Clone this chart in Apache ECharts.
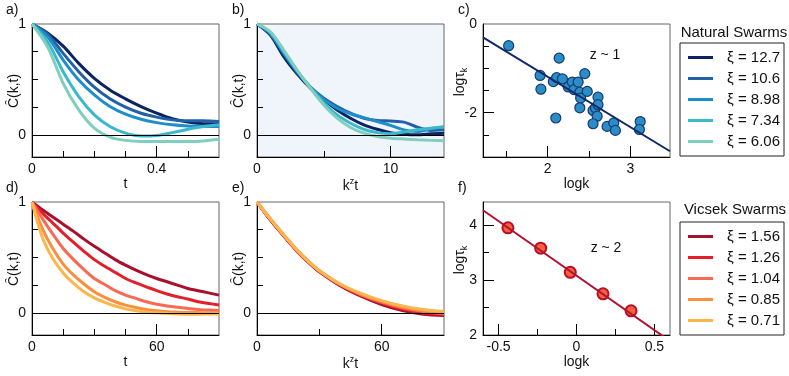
<!DOCTYPE html>
<html>
<head>
<meta charset="utf-8">
<script src="https://cdn.jsdelivr.net/npm/echarts@6/dist/echarts.min.js"></script>
<style>
html, body { margin: 0; padding: 0; background: #fff; }
#chart { width: 789px; height: 376px; }
</style>
</head>
<body>
<div id="chart"></div>
<script>
const font = 'Liberation Sans, Arial, Helvetica, sans-serif'

// natural swarms (a, b, c)
const natNames = ['ξ = 12.7', 'ξ = 10.6', 'ξ = 8.98', 'ξ = 7.34', 'ξ = 6.06']
const natColors = ['#0b2360', '#2260a8', '#1d8ec9', '#3bb8cc', '#7fcfbf']

const tA = [0, 0.05, 0.1, 0.15, 0.2, 0.25, 0.3, 0.35, 0.4, 0.45, 0.5, 0.55, 0.6]
const aCurves = [
    [1, 0.92, 0.80, 0.645, 0.51, 0.405, 0.325, 0.255, 0.195, 0.145, 0.115, 0.10, 0.10],
    [1, 0.91, 0.735, 0.57, 0.43, 0.325, 0.25, 0.195, 0.16, 0.135, 0.126, 0.126, 0.12],
    [1, 0.885, 0.675, 0.495, 0.36, 0.255, 0.186, 0.14, 0.11, 0.09, 0.08, 0.077, 0.075],
    [1, 0.84, 0.57, 0.345, 0.18, 0.075, 0.015, -0.01, -0.005, 0.02, 0.05, 0.075, 0.09],
    [1, 0.795, 0.465, 0.225, 0.06, -0.02, -0.05, -0.06, -0.06, -0.06, -0.06, -0.055, -0.04]
]

const ktB = [0, 1, 2, 3, 4, 5, 6, 7, 8, 9, 10, 11, 12, 13, 14]
const bCurves = [
    [1, 0.90, 0.705, 0.55, 0.42, 0.315, 0.225, 0.15, 0.09, 0.05, 0.02, 0.005, 0, 0.01, 0.015],
    [1, 0.91, 0.73, 0.565, 0.43, 0.33, 0.255, 0.195, 0.15, 0.13, 0.125, 0.115, 0.07, 0.04, 0.045],
    [1, 0.915, 0.74, 0.575, 0.43, 0.32, 0.24, 0.19, 0.155, 0.12, 0.085, 0.045, 0.03, 0.055, 0.07],
    [1, 0.925, 0.755, 0.58, 0.425, 0.29, 0.18, 0.105, 0.05, 0.02, 0.01, 0.025, 0.045, 0.06, 0.07],
    [1, 0.93, 0.765, 0.585, 0.42, 0.27, 0.15, 0.066, 0.015, -0.015, -0.03, -0.038, -0.045, -0.05, -0.054]
]

const cLogK = [1.53, 2.14, 1.91, 1.92, 2.07, 2.11, 2.10, 2.18, 2.25, 2.30, 2.32, 2.37, 2.39, 2.45,
    2.40, 2.48, 2.39, 2.55, 2.58, 2.61, 2.61, 2.60, 2.55, 2.72, 2.80, 2.82, 3.12, 3.11]
const cLogTau = [-0.49, -0.77, -1.16, -1.47, -1.30, -1.21, -2.12, -1.24, -1.42, -1.31, -1.48, -1.31, -1.54, -1.12,
    -1.67, -1.52, -1.89, -1.95, -1.89, -1.65, -1.82, -2.08, -2.25, -2.31, -2.23, -2.40, -2.20, -2.38]
const cFitX = [1.22, 3.48]
const cFitY = [-0.30, -2.87]

// vicsek swarms (d, e, f)
const vicNames = ['ξ = 1.56', 'ξ = 1.26', 'ξ = 1.04', 'ξ = 0.85', 'ξ = 0.71']
const vicColors = ['#a8102d', '#e3202a', '#f96a55', '#fa8f3c', '#fdb54e']

const tD = [0, 5, 10, 15, 20, 25, 30, 35, 40, 45, 50, 55, 60, 65, 70, 75, 80, 85, 90]
const dCurves = [
    [1, 0.93, 0.865, 0.80, 0.735, 0.665, 0.60, 0.54, 0.48, 0.43, 0.385, 0.345, 0.31, 0.28, 0.25, 0.22, 0.20, 0.18, 0.16],
    [1, 0.90, 0.81, 0.72, 0.635, 0.555, 0.48, 0.42, 0.365, 0.31, 0.27, 0.235, 0.20, 0.17, 0.145, 0.125, 0.10, 0.085, 0.07],
    [1, 0.85, 0.71, 0.58, 0.48, 0.39, 0.31, 0.255, 0.20, 0.16, 0.13, 0.10, 0.078, 0.062, 0.05, 0.04, 0.03, 0.025, 0.02],
    [1, 0.76, 0.58, 0.44, 0.34, 0.26, 0.19, 0.14, 0.10, 0.07, 0.048, 0.03, 0.018, 0.01, 0.006, 0.003, 0.002, 0.001, 0],
    [1, 0.68, 0.49, 0.36, 0.265, 0.19, 0.135, 0.095, 0.062, 0.036, 0.018, 0.006, 0, -0.006, -0.01, -0.012, -0.012, -0.011, -0.01]
]

const ktE = [0, 5, 10, 15, 20, 25, 30, 40, 50, 60, 70, 80, 90]
const eCurves = [
    [1, 0.87, 0.755, 0.645, 0.54, 0.45, 0.37, 0.245, 0.15, 0.075, 0.02, -0.012, -0.025],
    [1, 0.875, 0.76, 0.65, 0.545, 0.455, 0.375, 0.25, 0.158, 0.088, 0.035, 0, -0.015],
    [1, 0.88, 0.765, 0.655, 0.55, 0.46, 0.38, 0.255, 0.165, 0.097, 0.045, 0.012, -0.005],
    [1, 0.88, 0.765, 0.655, 0.55, 0.46, 0.38, 0.258, 0.17, 0.104, 0.055, 0.022, 0.005],
    [1, 0.88, 0.765, 0.655, 0.55, 0.46, 0.38, 0.26, 0.175, 0.11, 0.062, 0.03, 0.012]
]

const fLogK = [-0.44, -0.23, -0.04, 0.17, 0.35]
const fLogTau = [3.95, 3.58, 3.14, 2.75, 2.44]
const fFitX = [-0.6, 0.6]
const fFitY = [4.27, 1.89]

// grids: [left, top]
const grids = [[32, 24], [257, 24], [483, 24], [32, 202], [257, 202], [483, 202]]

const txt = { fontFamily: font, fontSize: 14, color: '#111' }
const rich = {
    n: { fontFamily: font, fontSize: 14, fill: '#111', color: '#111', lineHeight: 18 },
    sup: { fontFamily: font, fontSize: 9, fill: '#111', color: '#111', lineHeight: 9, verticalAlign: 'top' },
    sub: { fontFamily: font, fontSize: 9, fill: '#111', color: '#111', lineHeight: 9, verticalAlign: 'bottom' }
}

const xAxes = []
const yAxes = []

// primary axis with labels + long ticks, second one only for the short ticks
function addAxes(list, g, pos, min, max, labels, longT, shortT, name) {
    list.push({
        type: 'value', gridIndex: g, position: pos, min: min, max: max,
        axisLine: { show: true, onZero: false, lineStyle: { color: '#000', width: 1 } },
        axisTick: { show: longT.length > 0, inside: true, length: 11, customValues: longT, lineStyle: { color: '#000' } },
        axisLabel: { customValues: labels, margin: pos === 'left' ? 6 : 5, formatter: v => String(v), ...txt },
        splitLine: { show: false },
        name: name || '', nameLocation: 'middle', nameGap: name === 't' || name === 'logk' ? 16 : 14,
        nameTextStyle: { ...txt, rich: rich }
    })
    list.push({
        type: 'value', gridIndex: g, position: pos, min: min, max: max,
        axisLine: { show: false, onZero: false },
        axisTick: { show: true, inside: true, length: 6, customValues: shortT, lineStyle: { color: '#000' } },
        axisLabel: { show: false },
        splitLine: { show: false }
    })
}

const kztName = '{n|k}{sup|z}{n|t}'

addAxes(xAxes, 0, 'bottom', 0, 0.6, [0, 0.4], [0.4], [0.1, 0.2, 0.3, 0.5], 't')
addAxes(yAxes, 0, 'left', -0.2, 1, [0, 1], [], [0.25, 0.5, 0.75])
addAxes(xAxes, 1, 'bottom', 0, 14, [0, 10], [10], [5], kztName)
addAxes(yAxes, 1, 'left', -0.2, 1, [0, 1], [], [0.25, 0.5, 0.75])
addAxes(xAxes, 2, 'bottom', 1.22, 3.48, [2, 3], [2, 3], [1.5, 2.5], 'logk')
addAxes(yAxes, 2, 'left', -3, 0, [0, -2], [-2], [-0.5, -1, -1.5, -2.5])
addAxes(xAxes, 3, 'bottom', 0, 90, [0, 60], [60], [15, 30, 45, 75], 't')
addAxes(yAxes, 3, 'left', -0.2, 1, [0, 1], [], [0.25, 0.5, 0.75])
addAxes(xAxes, 4, 'bottom', 0, 90, [0, 60], [60], [30], kztName)
addAxes(yAxes, 4, 'left', -0.2, 1, [0, 1], [], [0.25, 0.5, 0.75])
addAxes(xAxes, 5, 'bottom', -0.6, 0.6, [-0.5, 0, 0.5], [-0.5, 0, 0.5], [-0.25, 0.25], 'logk')
addAxes(yAxes, 5, 'left', 2, 4.42, [2, 3, 4], [3, 4], [2.5, 3.5])

const zeroLine = {
    silent: true, symbol: 'none', animation: false,
    label: { show: false },
    lineStyle: { color: '#000', width: 1, type: 'solid' },
    data: [{ yAxis: 0 }]
}

const series = []
function addCurves(g, xs, curves, names, colors) {
    curves.forEach((ys, i) => {
        series.push({
            name: names[i], type: 'line', xAxisIndex: 2 * g, yAxisIndex: 2 * g,
            data: xs.map((x, j) => [x, ys[j]]),
            smooth: 0.3, showSymbol: false,
            lineStyle: { color: colors[i], width: 3 }, itemStyle: { color: colors[i] },
            markLine: i === 0 ? zeroLine : undefined
        })
    })
}
addCurves(0, tA, aCurves, natNames, natColors)
addCurves(1, ktB, bCurves, natNames, natColors)
addCurves(3, tD, dCurves, vicNames, vicColors)
addCurves(4, ktE, eCurves, vicNames, vicColors)

series.push({
    type: 'line', xAxisIndex: 4, yAxisIndex: 4, showSymbol: false,
    data: cFitX.map((x, i) => [x, cFitY[i]]),
    lineStyle: { color: '#10296a', width: 2 }
})
series.push({
    type: 'scatter', xAxisIndex: 4, yAxisIndex: 4, symbolSize: 10,
    data: cLogK.map((x, i) => [x, cLogTau[i]]),
    itemStyle: { color: '#2a8dc8', borderColor: '#163a6e', borderWidth: 1.2, opacity: 1 }
})
series.push({
    type: 'line', xAxisIndex: 10, yAxisIndex: 10, showSymbol: false,
    data: fFitX.map((x, i) => [x, fFitY[i]]),
    lineStyle: { color: '#b3132f', width: 2 }
})
series.push({
    type: 'scatter', xAxisIndex: 10, yAxisIndex: 10, symbolSize: 11,
    data: fLogK.map((x, i) => [x, fLogTau[i]]),
    itemStyle: { color: '#f5603d', borderColor: '#b8102c', borderWidth: 2, opacity: 1 }
})

function legendBox(top, names) {
    return {
        orient: 'vertical', left: 680, top: top, data: names,
        icon: 'rect', itemWidth: 25, itemHeight: 3, itemGap: 4,
        padding: [6, 4, 6, 8], borderColor: '#222', borderWidth: 1,
        selectedMode: false,
        textStyle: { fontFamily: font, fontSize: 15, color: '#111', lineHeight: 17, padding: [0, 0, 0, 9] }
    }
}

function label(text, x, y, align) {
    return {
        type: 'text', x: x, y: y, silent: true,
        style: { text: text, font: '14px ' + font, fill: '#111', align: align || 'left', verticalAlign: 'middle' }
    }
}

// rotated y axis titles
function yName(text, x, y) {
    return {
        type: 'text', x: x, y: y, rotation: Math.PI / 2, silent: true,
        style: { text: text, font: '14px ' + font, fill: '#111', align: 'center', verticalAlign: 'middle', rich: rich }
    }
}

const option = {
    animation: false,
    backgroundColor: '#fff',
    grid: grids.map((p, i) => ({
        left: p[0], top: p[1], width: 187, height: 133,
        show: true, borderColor: '#666', borderWidth: 1,
        backgroundColor: i === 1 ? '#f0f5fc' : 'transparent',
        outerBoundsMode: 'none', containLabel: false
    })),
    xAxis: xAxes,
    yAxis: yAxes,
    legend: [legendBox(43, natNames), legendBox(222, vicNames)],
    graphic: [
        label('a)', 6, 10), label('b)', 232, 10), label('c)', 458, 10),
        label('d)', 6, 188), label('e)', 232, 188), label('f)', 458, 188),
        { type: 'text', x: 734, y: 33, silent: true, style: { text: 'Natural Swarms', font: '15px ' + font, fill: '#111', align: 'center', verticalAlign: 'middle' } },
        { type: 'text', x: 735, y: 210, silent: true, style: { text: 'Vicsek Swarms', font: '15px ' + font, fill: '#111', align: 'center', verticalAlign: 'middle' } },
        label('z ~ 1', 605, 55, 'center'),
        label('z ~ 2', 606, 248, 'center'),
        yName('Ĉ(k,t)', 14, 91), yName('Ĉ(k,t)', 239, 91),
        yName('Ĉ(k,t)', 14, 269), yName('Ĉ(k,t)', 239, 269),
        yName('{n|logτ}{sub|k}', 460, 82), yName('{n|logτ}{sub|k}', 460, 260)
    ],
    series: series
}

const chart = echarts.init(document.getElementById('chart'))
chart.setOption(option)
</script>
</body>
</html>
